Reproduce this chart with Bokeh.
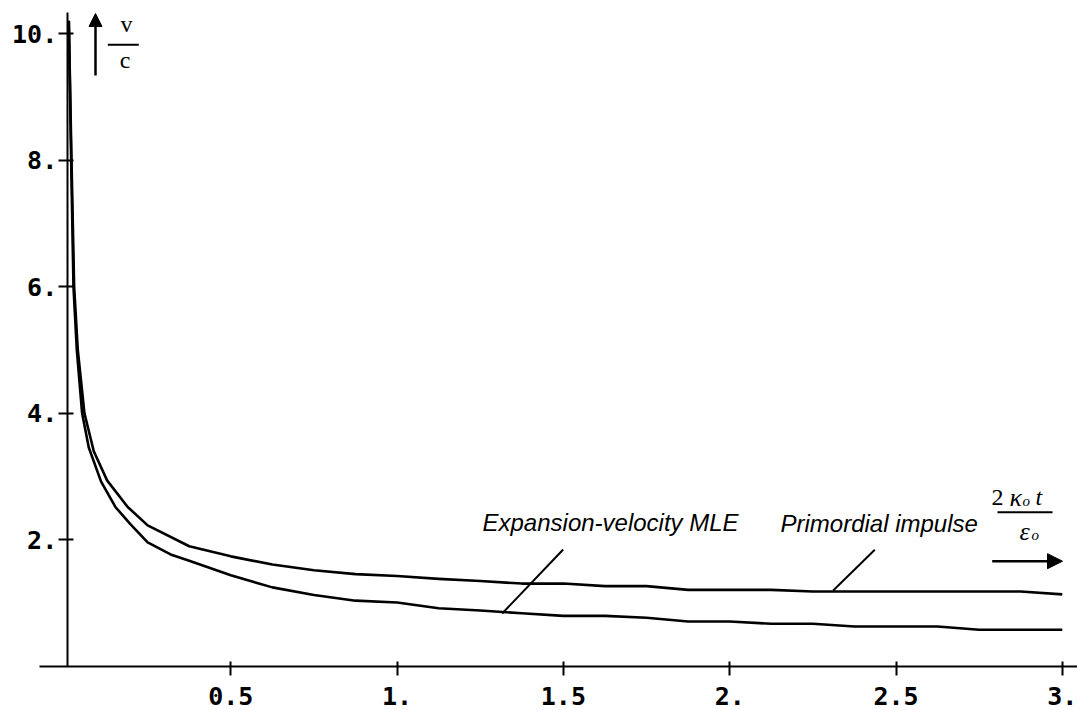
from bokeh.plotting import figure
from bokeh.models import Range1d, FixedTicker, Label, Arrow, NormalHead
from bokeh.embed import file_html
from bokeh.resources import INLINE

# ---------------- data ----------------
mle_x = [0.013, 0.020, 0.027, 0.037, 0.053, 0.073, 0.110, 0.153, 0.198, 0.25,
         0.319, 0.375, 0.5, 0.625, 0.75, 0.875, 1.0, 1.125, 1.25, 1.375, 1.5,
         1.625, 1.75, 1.875, 2.0, 2.125, 2.25, 2.375, 2.5, 2.625, 2.75, 2.875, 3.0]
mle_y = [10.2, 8.0, 6.0, 5.0, 4.0, 3.46, 2.92, 2.52, 2.25, 1.96,
         1.77, 1.67, 1.44, 1.25, 1.13, 1.04, 1.01, 0.92, 0.885, 0.84, 0.80,
         0.80, 0.77, 0.71, 0.71, 0.675, 0.675, 0.632, 0.632, 0.632, 0.58, 0.58, 0.58]

prim_x = [0.013, 0.021, 0.029, 0.040, 0.060, 0.088, 0.128, 0.19, 0.25, 0.375,
          0.5, 0.625, 0.75, 0.875, 1.0, 1.125, 1.25, 1.375, 1.5, 1.625, 1.75,
          1.875, 2.0, 2.125, 2.25, 2.375, 2.5, 2.625, 2.75, 2.875, 3.0]
prim_y = [10.2, 8.0, 6.0, 5.0, 4.0, 3.40, 2.94, 2.52, 2.23, 1.90,
          1.74, 1.61, 1.52, 1.46, 1.43, 1.385, 1.35, 1.31, 1.31, 1.27, 1.27,
          1.21, 1.21, 1.21, 1.185, 1.185, 1.185, 1.185, 1.185, 1.185, 1.14]

x_ticks = [0.5, 1.0, 1.5, 2.0, 2.5, 3.0]
x_tick_labels = ["0.5", "1.", "1.5", "2.", "2.5", "3."]
y_ticks = [2, 4, 6, 8, 10]
y_tick_labels = ["2.", "4.", "6.", "8.", "10."]

label_mle = "Expansion-velocity MLE"
label_prim = "Primordial impulse"

# ---------------- geometry ----------------
W, H = 1077, 710
SX0, SXU = 64.0, 332.6      # screen x of x=0, px per unit
SY0, SYU = 666.0, 63.3      # screen y of y=0, px per unit
TXT_DY = 8.5                # baseline correction for labels


def fx(sx):
    return (sx - SX0) / SXU


def fy(sy):
    return (SY0 - sy) / SYU


def ty(sy):
    return fy(sy - TXT_DY)


p = figure(width=W, height=H, title=None,
           x_range=Range1d(fx(0), fx(W)),
           y_range=Range1d(fy(H), fy(0)),
           output_backend="svg", toolbar_location=None,
           min_border_left=0, min_border_right=0,
           min_border_top=0, min_border_bottom=0)
p.outline_line_color = None
p.grid.visible = False
p.background_fill_color = "white"
p.border_fill_color = "white"

tick_font = "DejaVu Sans Mono"

xa = p.xaxis[0]
xa.fixed_location = 0
xa.bounds = (fx(39), fx(W))
xa.ticker = FixedTicker(ticks=x_ticks)
xa.major_label_overrides = {t: l for t, l in zip(x_ticks, x_tick_labels)}
xa.major_tick_in = 5
xa.major_tick_out = 9
xa.minor_tick_line_color = None
xa.axis_line_width = 2
xa.major_tick_line_width = 2
xa.major_label_text_font = tick_font
xa.major_label_text_font_style = "bold"
xa.major_label_text_font_size = "25px"
xa.major_label_text_color = "black"
xa.major_label_standoff = 11
xa.axis_line_color = "black"
xa.major_tick_line_color = "black"

ya = p.yaxis[0]
ya.fixed_location = fx(66.7)
ya.bounds = (0, fy(12))
ya.ticker = FixedTicker(ticks=y_ticks)
ya.major_label_overrides = {t: l for t, l in zip(y_ticks, y_tick_labels)}
ya.major_tick_in = 6
ya.major_tick_out = 9
ya.minor_tick_line_color = None
ya.axis_line_width = 2
ya.major_tick_line_width = 2
ya.major_label_text_font = tick_font
ya.major_label_text_font_style = "bold"
ya.major_label_text_font_size = "25px"
ya.major_label_text_color = "black"
ya.major_label_standoff = 1
ya.axis_line_color = "black"
ya.major_tick_line_color = "black"

# curves
p.line(prim_x, prim_y, line_color="black", line_width=2.6, line_join="round")
p.line(mle_x, mle_y, line_color="black", line_width=2.6, line_join="round")

# pointer lines
p.add_layout(Arrow(end=None, x_start=fx(562.7), y_start=fy(549), x_end=fx(501.7), y_end=fy(613),
                   line_width=2, line_color="black"))
p.add_layout(Arrow(end=None, x_start=fx(874.3), y_start=fy(549.3), x_end=fx(832.7), y_end=fy(590),
                   line_width=2, line_color="black"))

# series labels
p.add_layout(Label(x=fx(482), y=ty(530), text=label_mle, text_font="Liberation Sans",
                   text_font_style="italic", text_font_size="24px", text_color="black",
                   text_align="left", text_baseline="alphabetic"))
p.add_layout(Label(x=fx(780), y=ty(531.5), text=label_prim, text_font="Liberation Sans",
                   text_font_style="italic", text_font_size="24px", text_color="black",
                   text_align="left", text_baseline="alphabetic"))

serif = "Liberation Serif"

# y axis label: arrow + v / c
p.add_layout(Arrow(end=NormalHead(size=13, fill_color="black", line_color="black", line_width=1),
                   x_start=fx(95), y_start=fy(75), x_end=fx(95), y_end=fy(13),
                   line_width=2.5, line_color="black"))
p.add_layout(Label(x=fx(126), y=ty(31.5), text="v", text_font=serif, text_font_size="24px",
                   text_align="center", text_baseline="alphabetic", text_color="black"))
p.add_layout(Arrow(end=None, x_start=fx(107.3), y_start=fy(44.3), x_end=fx(138.3), y_end=fy(44.3),
                   line_width=2, line_color="black"))
p.add_layout(Label(x=fx(124.5), y=ty(68), text="c", text_font=serif, text_font_size="24px",
                   text_align="center", text_baseline="alphabetic", text_color="black"))

# x axis label: 2 kappa_o t / epsilon_o + arrow
p.add_layout(Label(x=fx(991), y=ty(505), text="2", text_font=serif, text_font_size="24px",
                   text_align="left", text_baseline="alphabetic", text_color="black"))
p.add_layout(Label(x=fx(1009), y=ty(505), text="κ", text_font=serif, text_font_style="italic",
                   text_font_size="26px", text_align="left", text_baseline="alphabetic", text_color="black"))
p.add_layout(Label(x=fx(1022), y=ty(509), text="o", text_font=serif, text_font_style="italic",
                   text_font_size="15px", text_align="left", text_baseline="alphabetic", text_color="black"))
p.add_layout(Label(x=fx(1035), y=ty(505), text="t", text_font=serif, text_font_style="italic",
                   text_font_size="24px", text_align="left", text_baseline="alphabetic", text_color="black"))
p.add_layout(Arrow(end=None, x_start=fx(997), y_start=fy(511.7), x_end=fx(1052), y_end=fy(511.7),
                   line_width=2, line_color="black"))
p.add_layout(Label(x=fx(1019), y=ty(539), text="ε", text_font=serif, text_font_style="italic",
                   text_font_size="26px", text_align="left", text_baseline="alphabetic", text_color="black"))
p.add_layout(Label(x=fx(1031), y=ty(543), text="o", text_font=serif, text_font_style="italic",
                   text_font_size="15px", text_align="left", text_baseline="alphabetic", text_color="black"))
p.add_layout(Arrow(end=NormalHead(size=15, fill_color="black", line_color="black", line_width=1),
                   x_start=fx(991.7), y_start=fy(560.7), x_end=fx(1062), y_end=fy(560.7),
                   line_width=2.5, line_color="black"))

open("out.html", "w").write(file_html(p, INLINE))
